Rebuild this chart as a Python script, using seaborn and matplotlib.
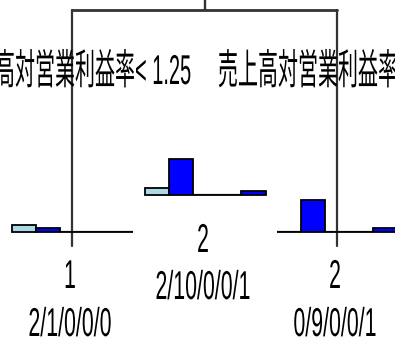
import numpy as np
import pandas as pd
import matplotlib
matplotlib.use("Agg")
import matplotlib.pyplot as plt
import seaborn as sns
from matplotlib.patheffects import AbstractPathEffect
from matplotlib.transforms import Affine2D

# ---- data -------------------------------------------------------------
classes = ["1", "2", "3", "4", "5"]
root_counts = [2, 10, 0, 0, 1]
left_counts = [2, 1, 0, 0, 0]
right_counts = [0, 9, 0, 0, 1]
split_var = "売上高対営業利益率"
split_value = 1.25

# ---- style / layout ---------------------------------------------------
class_colors = ["#ADD8E6", "#0000FF", "#00BFFF", "#1E90FF", "#0000FF"]
W, H = 395, 343
px_per_unit = 3.6
bar_panel_w = 121
bar_panel_h = 60
edge_color = "#333333"

sns.set_style("white")
plt.rcParams["font.family"] = ["Liberation Sans", "Noto Sans CJK JP"]

fig = plt.figure(figsize=(W / 100, H / 100), dpi=100)
ax = fig.add_axes([0, 0, 1, 1])
ax.set_xlim(0, W)
ax.set_ylim(H, 0)
ax.axis("off")


class Squeeze(AbstractPathEffect):
    """Narrow the glyphs horizontally around a fixed display x."""

    def __init__(self, sx, cx):
        super().__init__()
        self.sx = sx
        self.cx = cx

    def draw_path(self, renderer, gc, tpath, affine, rgbFace=None):
        t = affine + Affine2D().translate(-self.cx, 0).scale(self.sx, 1).translate(self.cx, 0)
        renderer.draw_path(gc, tpath, t, rgbFace)


def label(x, y, s, size, sx):
    cx = ax.transData.transform((x, y))[0]
    ax.text(x, y, s, ha="center", va="center", fontsize=size, color="black",
            path_effects=[Squeeze(sx, cx)])


def node_bars(cx, base_y, counts):
    left = cx - bar_panel_w / 2
    ins = fig.add_axes([left / W, (H - base_y) / H, bar_panel_w / W, bar_panel_h / H])
    df = pd.DataFrame({"class": classes, "n": counts})
    sns.barplot(data=df, x="class", y="n", hue="class", palette=class_colors,
                saturation=1, width=1.0, edgecolor="black", linewidth=1.3,
                legend=False, ax=ins)
    ins.set_xlim(-0.5, len(classes) - 0.5)
    ins.set_ylim(0, bar_panel_h / px_per_unit)
    ins.axhline(0, color=edge_color, lw=1.6, zorder=0.5)
    ins.axis("off")
    for p in ins.patches:
        p.set_clip_on(False)
    return ins


# node positions (pixels)
root_x, left_x, right_x = 205, 72, 337
split_y = 10
root_base, leaf_base = 195, 232
branch_end = 246

# tree edges
ax.plot([root_x, root_x], [-5, split_y], color=edge_color, lw=1.7)
ax.plot([left_x, right_x], [split_y, split_y], color=edge_color, lw=2.0)
ax.plot([left_x, left_x], [split_y, branch_end], color=edge_color, lw=1.6)
ax.plot([right_x, right_x], [split_y, branch_end], color=edge_color, lw=1.6)

# split labels
label(left_x + 1, 73, f"{split_var}< {split_value}", 30, 0.48)
label(right_x + 2, 73, f"{split_var}>={split_value}", 30, 0.48)

# node bar charts
node_bars(root_x, root_base, root_counts)
node_bars(left_x, leaf_base, left_counts)
node_bars(right_x, leaf_base, right_counts)


def node_text(cx, y_class, y_counts, counts):
    pred = classes[int(np.argmax(counts))]
    label(cx - 2, y_class, pred, 29, 0.53)
    label(cx - 2, y_counts, "/".join(str(c) for c in counts), 29, 0.53)


node_text(root_x, 241, 288, root_counts)
node_text(left_x, 277, 325, left_counts)
node_text(right_x, 277, 325, right_counts)

fig.savefig("out.png", dpi=100)
